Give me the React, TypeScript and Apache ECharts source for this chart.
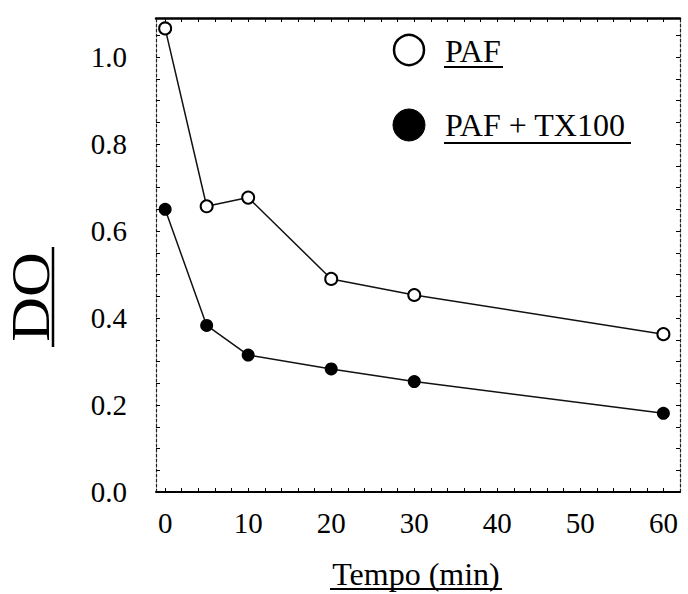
import React, { useEffect, useRef } from "react";
import * as echarts from "echarts";

const timeMin = [0, 5, 10, 20, 30, 60];
const pafValues = [1.066, 0.657, 0.677, 0.49, 0.453, 0.363];
const pafTxValues = [0.65, 0.383, 0.315, 0.283, 0.254, 0.181];
const xTickLabels = [0, 10, 20, 30, 40, 50, 60];
const yTickLabels = [0, 0.2, 0.4, 0.6, 0.8, 1.0];
const seriesNames = ["PAF", "PAF + TX100"];
const xTitle = "Tempo (min)";
const yTitle = "DO";

const FONT = '"Liberation Serif", "Times New Roman", serif';

export default function App() {
  const ref = useRef<HTMLDivElement>(null);
  useEffect(() => {
    document.body.style.margin = "0";
    if (!ref.current) return;
    const chart = echarts.init(ref.current, undefined, { renderer: "svg" });
    const xMinorTicks: number[] = [];
    for (let v = 0; v <= 60; v += 2) xMinorTicks.push(v);
    const yMinorTicks: number[] = [];
    for (let i = 0; i <= 21; i++) yMinorTicks.push(+(i * 0.05).toFixed(2));

    const pafData = timeMin.map((t, i) => [t, pafValues[i]]);
    const pafTxData = timeMin.map((t, i) => [t, pafTxValues[i]]);

    chart.setOption({
      animation: false,
      backgroundColor: "#fff",
      grid: { left: 156, right: 8, top: 18, bottom: 102, containLabel: false },
      xAxis: [
        {
          type: "value",
          min: -1.1,
          max: 62,
          position: "bottom",
          splitLine: { show: false },
          axisLine: { show: true, onZero: false, lineStyle: { color: "#000", width: 2 } },
          axisTick: {
            show: true,
            inside: true,
            length: 4,
            customValues: xMinorTicks,
            lineStyle: { color: "#000", width: 1 },
          },
          axisLabel: {
            customValues: xTickLabels,
            margin: 16,
            fontFamily: FONT,
            fontSize: 29,
            color: "#000",
            formatter: (v: number) => String(v),
          },
        },
        {
          type: "value",
          min: -1.1,
          max: 62,
          position: "top",
          splitLine: { show: false },
          axisLine: { show: true, onZero: false, lineStyle: { color: "#000", width: 2.5 } },
          axisTick: {
            show: true,
            inside: true,
            length: 4,
            customValues: xMinorTicks,
            lineStyle: { color: "#000", width: 1 },
          },
          axisLabel: { show: false },
        },
      ],
      yAxis: [
        {
          type: "value",
          min: 0,
          max: 1.09,
          position: "left",
          splitLine: { show: false },
          axisLine: { show: true, onZero: false, lineStyle: { color: "#222", width: 1.2, type: [3, 2] } },
          axisTick: {
            show: true,
            inside: true,
            length: 4,
            customValues: yMinorTicks,
            lineStyle: { color: "#000", width: 1 },
          },
          axisLabel: {
            customValues: yTickLabels,
            margin: 29,
            fontFamily: FONT,
            fontSize: 29,
            color: "#000",
            formatter: (v: number) => v.toFixed(1),
          },
        },
        {
          type: "value",
          min: 0,
          max: 1.09,
          position: "right",
          splitLine: { show: false },
          axisLine: { show: true, onZero: false, lineStyle: { color: "#222", width: 1.2, type: [3, 2] } },
          axisTick: {
            show: true,
            inside: true,
            length: 4,
            customValues: yMinorTicks,
            lineStyle: { color: "#000", width: 1 },
          },
          axisLabel: { show: false },
        },
      ],
      series: [
        {
          name: seriesNames[0],
          type: "line",
          data: pafData,
          symbol: "emptyCircle",
          symbolSize: 12,
          lineStyle: { color: "#111", width: 1.5 },
          itemStyle: { color: "#000", borderColor: "#000", borderWidth: 1.6 },
          z: 3,
        },
        {
          name: seriesNames[1],
          type: "line",
          data: pafTxData,
          symbol: "circle",
          symbolSize: 13,
          lineStyle: { color: "#111", width: 1.5 },
          itemStyle: { color: "#000" },
          z: 3,
        },
      ],
      graphic: [
        // legend
        { type: "circle", shape: { cx: 409, cy: 50, r: 15 }, style: { fill: "#fff", stroke: "#000", lineWidth: 2.5 } },
        {
          type: "text",
          x: 445,
          y: 51,
          style: { text: seriesNames[0], font: `32px ${FONT}`, fill: "#000", textAlign: "left", textVerticalAlign: "middle" },
        },
        { type: "line", shape: { x1: 444, y1: 67, x2: 503, y2: 67 }, style: { stroke: "#000", lineWidth: 2 } },
        { type: "circle", shape: { cx: 409, cy: 125, r: 16 }, style: { fill: "#000", stroke: "#000", lineWidth: 1 } },
        {
          type: "text",
          x: 445,
          y: 125,
          style: { text: seriesNames[1], font: `32px ${FONT}`, fill: "#000", textAlign: "left", textVerticalAlign: "middle" },
        },
        { type: "line", shape: { x1: 444, y1: 143, x2: 631, y2: 143 }, style: { stroke: "#000", lineWidth: 2 } },
        // x title
        {
          type: "text",
          x: 416,
          y: 574,
          style: { text: xTitle, font: `32px ${FONT}`, fill: "#000", textAlign: "center", textVerticalAlign: "middle" },
        },
        { type: "line", shape: { x1: 330, y1: 589, x2: 502, y2: 589 }, style: { stroke: "#000", lineWidth: 2 } },
        // y title
        {
          type: "text",
          x: 31,
          y: 297,
          rotation: Math.PI / 2,
          scaleX: 1.15,
          style: { text: yTitle, font: `54px ${FONT}`, fill: "#000", textAlign: "center", textVerticalAlign: "middle" },
        },
        { type: "line", shape: { x1: 53, y1: 247, x2: 53, y2: 347 }, style: { stroke: "#000", lineWidth: 2.5 } },
      ],
    });
    return () => chart.dispose();
  }, []);
  return <div ref={ref} style={{ width: 688, height: 594 }} />;
}
